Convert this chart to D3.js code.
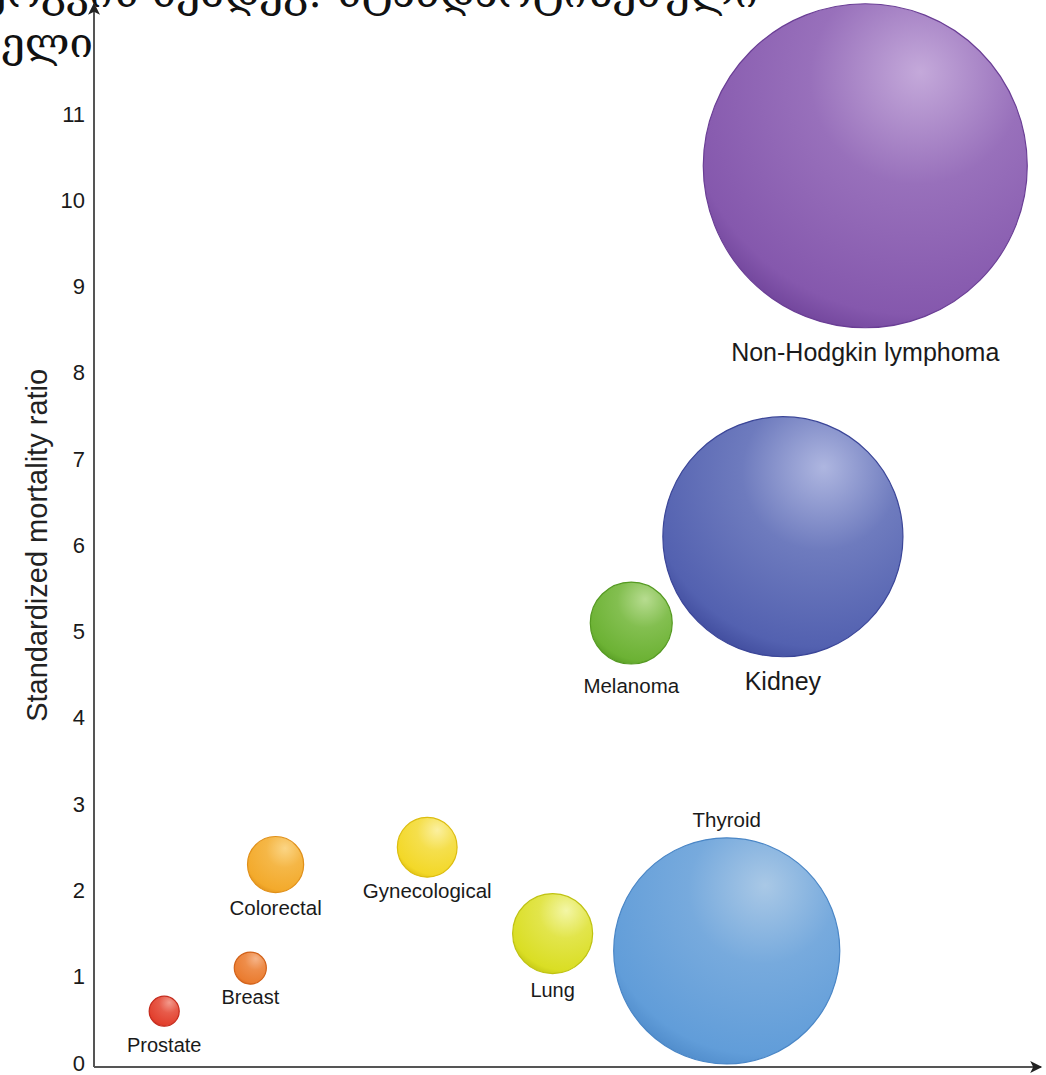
<!DOCTYPE html>
<html>
<head>
<meta charset="utf-8">
<script src="https://cdn.jsdelivr.net/npm/d3@7"></script>
<style>
  html, body { margin: 0; padding: 0; background: #fff; }
  svg { display: block; }
</style>
</head>
<body>
<svg id="chart" width="1046" height="1075"></svg>
<script>
// Cancer sites, standardized mortality ratio and relative bubble size
const sites = ["Prostate", "Breast", "Colorectal", "Gynecological", "Lung",
               "Thyroid", "Melanoma", "Kidney", "Non-Hodgkin lymphoma"];
const smr = [0.6, 1.1, 2.3, 2.5, 1.5, 1.3, 5.1, 6.1, 10.4];
// horizontal placement on an unlabelled 0–100 scale
const spread = [7.5, 16.7, 19.4, 35.6, 49.0, 67.6, 57.4, 73.6, 82.4];
// bubble size (relative, area-proportional)
const bubbleSize = [0.86, 0.98, 3.0, 3.4, 6.1, 48.7, 6.4, 54.9, 100];
const yTicks = [0, 1, 2, 3, 4, 5, 6, 7, 8, 9, 10, 11];
const yTitle = "Standardized mortality ratio";
const captionLines = [
  "სურათი 3. ავთვისებიანი სიმსივნეების რისკი ორგანოს გადანერგვის შემდეგ: სტანდარტიზებული",
  "სიკვდილობის მაჩვენებელი"
];

const svg = d3.select("#chart");

const y = d3.scaleLinear().domain([0, 11]).range([1063, 114]);
const x = d3.scaleLinear().domain([0, 100]).range([94, 1030]);
const r = d3.scaleSqrt().domain([0, 100]).range([0, 162]);

// sphere colours: [highlight, base, rim]
const palette = {
  "Prostate":             ["#f39a8c", "#e2402e", "#c42a1c"],
  "Breast":               ["#f6b488", "#ea7c30", "#d2621a"],
  "Colorectal":           ["#fbd585", "#f3aa2c", "#e0901a"],
  "Gynecological":        ["#fbf0a0", "#f3d828", "#dcbd10"],
  "Lung":                 ["#f3f6a6", "#dade24", "#bfc212"],
  "Thyroid":              ["#a9c8e6", "#619dd9", "#4a86c6"],
  "Melanoma":             ["#b7dc90", "#6cb234", "#559a22"],
  "Kidney":               ["#aeb6e0", "#5361b0", "#3b4698"],
  "Non-Hodgkin lymphoma": ["#c4a9da", "#8558ad", "#6a3e95"]
};
// label placement relative to bubble
const labelStyle = {
  "Prostate":             { side: "below", gap: 26, size: 20 },
  "Breast":               { side: "below", gap: 20, size: 20 },
  "Colorectal":           { side: "below", gap: 22, size: 20.5 },
  "Gynecological":        { side: "below", gap: 21, size: 20.5 },
  "Lung":                 { side: "below", gap: 23, size: 20 },
  "Thyroid":              { side: "above", gap: 11, size: 20.5 },
  "Melanoma":             { side: "below", gap: 29, size: 20.5 },
  "Kidney":               { side: "below", gap: 33, size: 25 },
  "Non-Hodgkin lymphoma": { side: "below", gap: 33, size: 25 }
};

const data = sites.map((s, i) => ({ site: s, smr: smr[i], pos: spread[i], size: bubbleSize[i] }));

const defs = svg.append("defs");
data.forEach((d, i) => {
  const c = palette[d.site];
  const g = defs.append("radialGradient")
    .attr("id", "sph" + i)
    .attr("cx", "0.64").attr("cy", "0.26").attr("r", "0.82")
    .attr("fx", "0.67").attr("fy", "0.21");
  g.append("stop").attr("offset", "0%").attr("stop-color", c[0]);
  g.append("stop").attr("offset", "40%").attr("stop-color", d3.interpolateRgb(c[0], c[1])(0.7));
  g.append("stop").attr("offset", "86%").attr("stop-color", c[1]);
  g.append("stop").attr("offset", "100%").attr("stop-color", c[2]);
});

// arrow markers for the axes
defs.append("marker")
  .attr("id", "arrow").attr("viewBox", "0 0 10 10")
  .attr("refX", 9).attr("refY", 5)
  .attr("markerWidth", 20).attr("markerHeight", 12)
  .attr("markerUnits", "userSpaceOnUse")
  .attr("orient", "auto")
  .append("path").attr("d", "M0,0 L10,5 L0,10 L2.5,5 Z").attr("fill", "#222");

// caption (runs past the top edge)
const cap = svg.append("g")
  .attr("font-family", "'DejaVu Serif', 'DejaVu Sans', serif")
  .attr("font-size", 42).attr("fill", "#111");
cap.append("text").attr("x", 758).attr("y", 7).attr("text-anchor", "end").text(captionLines[0]);
cap.append("text").attr("x", 93).attr("y", 57).attr("text-anchor", "end").text(captionLines[1]);

// axes
const axisY0 = y(0) + 4;
svg.append("line")
  .attr("x1", x(0)).attr("y1", axisY0).attr("x2", x(0)).attr("y2", 4)
  .attr("stroke", "#555").attr("stroke-width", 2)
  .attr("marker-end", "url(#arrow)");
svg.append("line")
  .attr("x1", x(0)).attr("y1", axisY0).attr("x2", 1041).attr("y2", axisY0)
  .attr("stroke", "#555").attr("stroke-width", 2)
  .attr("marker-end", "url(#arrow)");

const yAxis = d3.axisLeft(y).tickValues(yTicks).tickSize(0).tickPadding(9).tickFormat(d3.format("d"));
const gy = svg.append("g").attr("transform", `translate(${x(0)},0)`).call(yAxis);
gy.select(".domain").remove();
gy.selectAll("text")
  .attr("font-family", "'Liberation Sans', Arial, sans-serif")
  .attr("font-size", 22).attr("fill", "#1a1a1a");

svg.append("text")
  .attr("transform", `translate(47, ${y(6.0)}) rotate(-90)`)
  .attr("text-anchor", "middle")
  .attr("font-family", "'Liberation Sans', Arial, sans-serif")
  .attr("font-size", 29).attr("fill", "#222")
  .text(yTitle);

// bubbles
const bubbles = svg.append("g").selectAll("g").data(data).join("g");
bubbles.append("circle")
  .attr("cx", d => x(d.pos)).attr("cy", d => y(d.smr)).attr("r", d => r(d.size))
  .attr("fill", (d, i) => `url(#sph${i})`)
  .attr("stroke", d => palette[d.site][2]).attr("stroke-width", 1.2);

bubbles.append("text")
  .attr("x", d => x(d.pos))
  .attr("y", d => {
    const ls = labelStyle[d.site];
    return ls.side === "above" ? y(d.smr) - r(d.size) - ls.gap
                               : y(d.smr) + r(d.size) + ls.gap;
  })
  .attr("text-anchor", "middle")
  .attr("font-family", "'Liberation Sans', Arial, sans-serif")
  .attr("font-size", d => labelStyle[d.site].size)
  .attr("fill", "#1a1a1a")
  .text(d => d.site);
</script>
</body>
</html>
